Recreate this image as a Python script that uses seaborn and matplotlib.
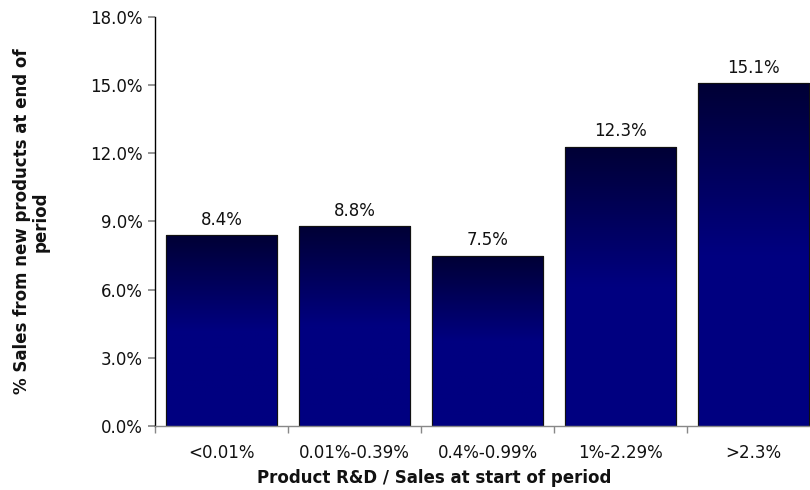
import numpy as np
import pandas as pd
import matplotlib
matplotlib.use("Agg")
import matplotlib.pyplot as plt
from matplotlib.colors import LinearSegmentedColormap
import seaborn as sns

categories = ["<0.01%", "0.01%-0.39%", "0.4%-0.99%", "1%-2.29%", ">2.3%"]
values = [8.4, 8.8, 7.5, 12.3, 15.1]
yticks = [0, 3, 6, 9, 12, 15, 18]

sns.set_theme(style="white")
plt.rcParams['font.family'] = 'sans-serif'
plt.rcParams['font.sans-serif'] = ['DejaVu Sans']

df = pd.DataFrame({"cat": categories, "val": values})

fig = plt.figure(figsize=(8.1, 4.9), dpi=100)
ax = fig.add_axes([155/810, 1 - 426/490, 665/810, (426-17)/490])

sns.barplot(data=df, x="cat", y="val", ax=ax, color="#000066", width=0.84,
            edgecolor="#111111", linewidth=0.8, saturation=1)

cmap = LinearSegmentedColormap.from_list("g", ["#000080", "#000080", "#000035"])
grad = np.linspace(0, 1, 256).reshape(-1, 1)
fs = 12
for p in ax.patches:
    x0, w, h = p.get_x(), p.get_width(), p.get_height()
    im = ax.imshow(grad, extent=[x0, x0 + w, 0, h], origin="lower", cmap=cmap,
                   aspect="auto", zorder=p.get_zorder() + 0.1)
    im.set_clip_path(p)
    ax.add_patch(plt.Rectangle((x0, 0), w, h, fill=False, edgecolor="#111111",
                               linewidth=0.8, zorder=p.get_zorder() + 0.2))
    ax.text(x0 + w / 2, h + 0.28, f"{h:.1f}%", ha="center", va="bottom",
            fontsize=fs, color="#111111")

ax.set_xlim(-0.5, len(categories) - 0.5)
ax.set_ylim(0, 18)
ax.set_yticks(yticks)
ax.set_yticklabels([f"{t:.1f}%" for t in yticks], fontsize=fs, color="#111111")
ax.set_xticks(np.arange(len(categories) + 1) - 0.5, minor=True)
ax.set_xticks(range(len(categories)))
ax.set_xticklabels(categories, fontsize=fs, color="#111111")
ax.tick_params(axis="x", which="major", length=0, pad=13)
ax.tick_params(axis="x", which="minor", length=5, color="#888888", direction="out", bottom=True)
ax.tick_params(axis="y", length=5, color="#888888", direction="out", left=True, pad=4)

for s in ["top", "right"]:
    ax.spines[s].set_visible(False)
ax.spines["left"].set_color("#000000")
ax.spines["left"].set_linewidth(1.0)
ax.spines["bottom"].set_color("#888888")
ax.spines["bottom"].set_linewidth(1.0)

ax.set_xlabel("Product R&D / Sales at start of period", fontsize=fs,
              fontweight="bold", color="#111111")
ax.xaxis.set_label_coords((434 - 155) / 665, -(469 - 426) / 409)
ax.set_ylabel("% Sales from new products at end of\nperiod", fontsize=fs,
              fontweight="bold", color="#111111", linespacing=1.05)
ax.yaxis.set_label_coords(-(155 - 50) / 665, 0.5)

fig.savefig("out.png", dpi=100)
